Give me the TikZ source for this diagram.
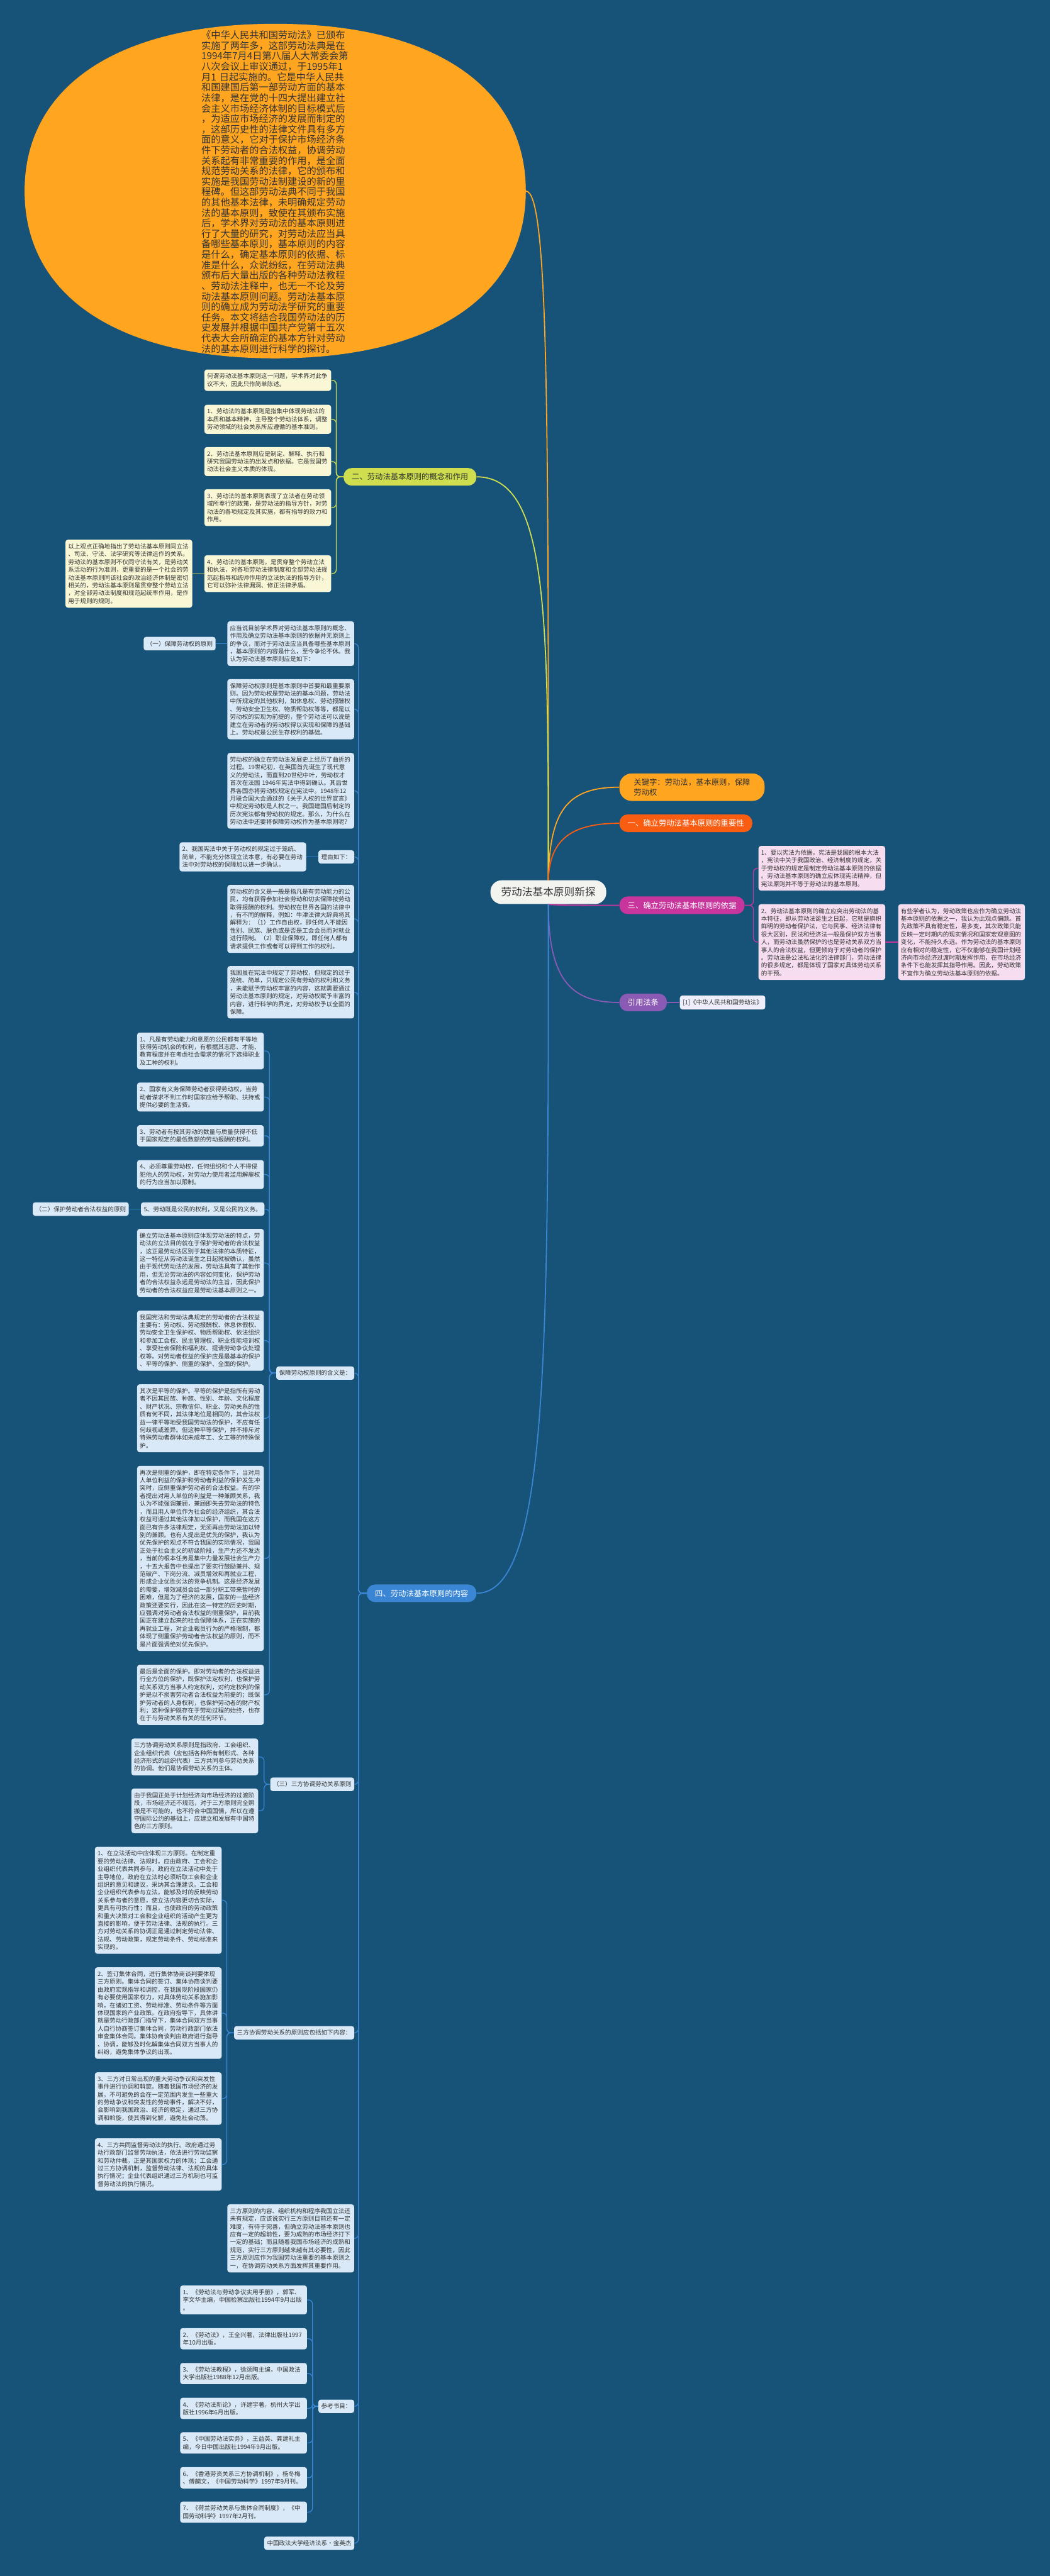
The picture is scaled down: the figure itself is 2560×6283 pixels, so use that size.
\documentclass[tikz,border=0pt]{standalone}
\usepackage{fontspec}
\setmainfont{Noto Sans CJK SC}
\usetikzlibrary{positioning,shapes.geometric}
\definecolor{bgblue}{RGB}{23,83,121}
\definecolor{ellorange}{RGB}{255,165,31}
\definecolor{limegreen}{RGB}{206,222,78}
\definecolor{creambox}{RGB}{249,247,214}
\definecolor{midblue}{RGB}{58,134,212}
\definecolor{paleblue}{RGB}{217,233,247}
\definecolor{redorange}{RGB}{249,93,18}
\definecolor{basisred}{RGB}{200,53,156}
\definecolor{pinkbox}{RGB}{246,221,240}
\definecolor{lawpurple}{RGB}{139,90,181}
\definecolor{lawbox}{RGB}{238,238,250}
\definecolor{inktext}{RGB}{51,51,51}
\definecolor{ctrfill}{RGB}{243,243,240}
\newcommand\boxfont{\fontsize{8.35pt}{10.83pt}\selectfont}
\newcommand\branchfont{\fontsize{10.77pt}{13.9pt}\selectfont}
\newcommand\corefont{\fontsize{14.57pt}{17pt}\selectfont}
\newcommand\introfont{\fontsize{13.3pt}{14.5pt}\selectfont}

\begin{document}
\begin{tikzpicture}[x=0.2mm, y=-0.2mm,
  txt/.style={fill=#1, rounded corners=1.2mm, text=inktext, font=\boxfont, align=left, text width=59.2mm, inner xsep=1.3mm, inner ysep=5.4pt, anchor=north west},
  tag/.style={fill=#1, rounded corners=1.2mm, text=inktext, font=\boxfont, inner xsep=1.4mm, inner ysep=5.4pt, anchor=east},
  branch/.style={fill=#1, rounded corners=4mm, font=\branchfont, inner xsep=4mm, minimum height=8.6mm},
  link/.style={draw=#1, line width=0.4mm, rounded corners=2mm},
  main/.style={draw=#1, line width=0.55mm}
]
\fill[bgblue] (0,0) rectangle (2560,6283);
\useasboundingbox (0,0) rectangle (2560,6283);

\fill[ellorange] (60,466) .. controls (60,211) and (286,58) .. (671,58) .. controls (1056,58) and (1282,211) .. (1282,466) .. controls (1282,721) and (1056,874) .. (671,874) .. controls (286,874) and (60,721) .. (60,466) -- cycle;
\coordinate (introeast) at (1282,466);
\node[font=\introfont, text=inktext, align=left, text width=72mm] (introtext) at (671,468) {《中华人民共和国劳动法》已颁布\\实施了两年多，这部劳动法典是在\\1994年7月4日第八届人大常委会第\\八次会议上审议通过，于1995年1\\月1 日起实施的。它是中华人民共\\和国建国后第一部劳动方面的基本\\法律，是在党的十四大提出建立社\\会主义市场经济体制的目标模式后\\，为适应市场经济的发展而制定的\\，这部历史性的法律文件具有多方\\面的意义，它对于保护市场经济条\\件下劳动者的合法权益，协调劳动\\关系起有非常重要的作用，是全面\\规范劳动关系的法律，它的颁布和\\实施是我国劳动法制建设的新的里\\程碑。但这部劳动法典不同于我国\\的其他基本法律，未明确规定劳动\\法的基本原则，致使在其颁布实施\\后，学术界对劳动法的基本原则进\\行了大量的研究，对劳动法应当具\\备哪些基本原则，基本原则的内容\\是什么，确定基本原则的依据、标\\准是什么，众说纷纭，在劳动法典\\颁布后大量出版的各种劳动法教程\\、劳动法注释中，也无一不论及劳\\动法基本原则问题。劳动法基本原\\则的确立成为劳动法学研究的重要\\任务。本文将结合我国劳动法的历\\史发展并根据中国共产党第十五次\\代表大会所确定的基本方针对劳动\\法的基本原则进行科学的探讨。};

\node[fill=ctrfill, rounded corners=5.5mm, font=\corefont, text=inktext, minimum height=11.6mm, inner xsep=5.2mm] (core) at (1337,2176) {劳动法基本原则新探};

\node[branch=limegreen, text=inktext, anchor=east] (concept) at (1162,1163) {二、劳动法基本原则的概念和作用};
\node[branch=midblue, text=white, anchor=east] (content) at (1162,3886) {四、劳动法基本原则的内容};
\node[branch=ellorange, text=inktext, anchor=west, align=left, rounded corners=6mm, inner xsep=7mm, inner ysep=2.5mm] (keyword) at (1510,1920) {关键字：劳动法，基本原则，保障\\劳动权};
\node[branch=redorange, text=white, anchor=west] (importance) at (1510,2008) {一、确立劳动法基本原则的重要性};
\node[branch=basisred, text=white, anchor=west] (basis) at (1510,2208) {三、确立劳动法基本原则的依据};
\node[branch=lawpurple, text=white, anchor=west] (statute) at (1510,2445) {引用法条};
\node[tag=lawbox, right=6.2mm of statute] (lawref) {[1]《中华人民共和国劳动法》};

\draw[main=ellorange] (core.north) .. controls (1337,1000) and (1337,466) .. (introeast);
\draw[main=limegreen] (core.north) .. controls (1337,1500) and (1337,1163) .. (concept.east);
\draw[main=ellorange] (core.north) .. controls (1340,1980) and (1380,1920) .. (keyword.west);
\draw[main=redorange] (core.north) .. controls (1340,2050) and (1390,2008) .. (importance.west);
\draw[main=basisred] (core.south) .. controls (1337,2208) and (1430,2208) .. (basis.west);
\draw[main=lawpurple] (core.south) .. controls (1337,2400) and (1400,2445) .. (statute.west);
\draw[main=midblue] (core.south) .. controls (1337,3300) and (1337,3886) .. (content.east);
\draw[link=lawpurple] (statute.east) -- (lawref.west);

\node[txt=pinkbox] (p1) at (1849,2063) {1、要以宪法为依据。宪法是我国的根本大法\\，宪法中关于我国政治、经济制度的规定，关\\于劳动权的规定是制定劳动法基本原则的依据\\。劳动法基本原则的确立应体现宪法精神，但\\宪法原则并不等于劳动法的基本原则。};
\node[txt=pinkbox] (p2) at (1849,2205) {2、劳动法基本原则的确立应突出劳动法的基\\本特征，即从劳动法诞生之日起，它就是旗帜\\鲜明的劳动者保护法，它与民事、经济法律有\\很大区别，民法和经济法一般是保护双方当事\\人，而劳动法虽然保护的也是劳动关系双方当\\事人的合法权益，但更倾向于对劳动者的保护\\。劳动法是公法私法化的法律部门，劳动法律\\的很多规定，都是体现了国家对具体劳动关系\\的干预。};
\node[txt=pinkbox, right=6.2mm of p2] (p3) {有些学者认为，劳动政策也应作为确立劳动法\\基本原则的依据之一，我认为此观点偏颇。首\\先政策不具有稳定性，易多变，其次政策只能\\反映一定时期内的现实情况和国家宏观意图的\\变化，不能持久永远。作为劳动法的基本原则\\应有相对的稳定性，它不仅能够在我国计划经\\济向市场经济过渡时期发挥作用，在市场经济\\条件下也能发挥其指导作用。因此，劳动政策\\不宜作为确立劳动法基本原则的依据。};
\coordinate (spbasis) at (1837,0);
\foreach \c in {p1,p2}
  \draw[link=basisred] (basis.east) -- (basis.east -| spbasis) -- (\c.west -| spbasis) -- (\c.west);
\draw[link=basisred] (p2.east) -- (p3.west);

\node[txt=creambox] (a1) at (498,901) {何谓劳动法基本原则这一问题，学术界对此争\\议不大，因此只作简单陈述。};
\node[txt=creambox] (a2) at (498,987) {1、劳动法的基本原则是指集中体现劳动法的\\本质和基本精神，主导整个劳动法体系，调整\\劳动领域的社会关系所应遵循的基本准则。};
\node[txt=creambox] (a3) at (498,1090) {2、劳动法基本原则应是制定、解释、执行和\\研究我国劳动法的出发点和依据。它是我国劳\\动法社会主义本质的体现。};
\node[txt=creambox] (a4) at (498,1193) {3、劳动法的基本原则表现了立法者在劳动领\\域所奉行的政策，是劳动法的指导方针，对劳\\动法的各项规定及其实施，都有指导的效力和\\作用。};
\node[txt=creambox] (a5) at (498,1354) {4、劳动法的基本原则，是贯穿整个劳动立法\\和执法，对各项劳动法律制度和全部劳动法规\\范起指导和统帅作用的立法执法的指导方针，\\它可以弥补法律漏洞、修正法律矛盾。};
\node[txt=creambox, left=5.8mm of a5] (recap) {以上观点正确地指出了劳动法基本原则同立法\\、司法、守法、法学研究等法律运作的关系。\\劳动法的基本原则不仅同守法有关，是劳动关\\系活动的行为准则，更重要的是一个社会的劳\\动法基本原则同该社会的政治经济体制是密切\\相关的，劳动法基本原则是贯穿整个劳动立法\\，对全部劳动法制度和规范起统率作用，是作\\用于规则的规则。};
\coordinate (spconcept) at (820,0);
\foreach \c in {a1,a2,a3,a4,a5}
  \draw[link=limegreen] (\c.east) -- (\c.east -| spconcept) -- (concept.west -| spconcept) -- (concept.west);
\draw[link=limegreen] (recap.east) -- (a5.west);

\node[txt=paleblue] (b1) at (554,1515) {应当说目前学术界对劳动法基本原则的概念、\\作用及确立劳动法基本原则的依据并无原则上\\的争议，而对于劳动法应当具备哪些基本原则\\，基本原则的内容是什么，至今争论不休。我\\认为劳动法基本原则应是如下：};
\node[tag=paleblue, left=5.6mm of b1] (right1) {（一）保障劳动权的原则};
\node[txt=paleblue] (b2) at (554,1656) {保障劳动权原则是基本原则中首要和最重要原\\则。因为劳动权是劳动法的基本问题，劳动法\\中所规定的其他权利，如休息权、劳动报酬权\\、劳动安全卫生权、物质帮助权等等，都是以\\劳动权的实现为前提的，整个劳动法可以说是\\建立在劳动者的劳动权得以实现和保障的基础\\上。劳动权是公民生存权利的基础。};
\node[txt=paleblue] (b3) at (554,1836) {劳动权的确立在劳动法发展史上经历了曲折的\\过程。19世纪初，在英国首先诞生了现代意\\义的劳动法，而直到20世纪中叶，劳动权才\\首次在法国 1946年宪法中得到确认。其后世\\界各国亦将劳动权规定在宪法中。1948年12\\月联合国大会通过的《关于人权的世界宣言》\\中规定劳动权是人权之一。我国建国后制定的\\历次宪法都有劳动权的规定。那么，为什么在\\劳动法中还要将保障劳动权作为基本原则呢？};
\node[tag=paleblue] (reason) at (864,2090) {理由如下：};
\node[txt=paleblue, left=5.8mm of reason] (c1) {2、我国宪法中关于劳动权的规定过于笼统、\\简单，不能充分体现立法本意，有必要在劳动\\法中对劳动权的保障加以进一步确认。};
\node[txt=paleblue] (b4) at (554,2158) {劳动权的含义是一般是指凡是有劳动能力的公\\民，均有获得参加社会劳动和切实保障按劳动\\取得报酬的权利。劳动权在世界各国的法律中\\，有不同的解释，例如：牛津法律大辞典将其\\解释为：（1）工作自由权，即任何人不能因\\性别、民族、肤色或是否是工会会员而对就业\\进行限制。（2）职业保障权，即任何人都有\\请求提供工作或者可以得到工作的权利。};
\node[txt=paleblue] (b5) at (554,2356) {我国虽在宪法中规定了劳动权，但规定的过于\\笼统、简单，只规定公民有劳动的权利和义务\\，未能赋予劳动权丰富的内容，这就需要通过\\劳动法基本原则的规定，对劳动权赋予丰富的\\内容，进行科学的界定，对劳动权予以全面的\\保障。};
\draw[link=midblue] (right1.east) -- (b1.west);
\draw[link=midblue] (c1.east) -- (reason.west);

\node[txt=paleblue] (d1) at (334,2518) {1、凡是有劳动能力和意愿的公民都有平等地\\获得劳动机会的权利，有根据其志愿、才能、\\教育程度并在考虑社会需求的情况下选择职业\\及工种的权利。};
\node[txt=paleblue] (d2) at (334,2640) {2、国家有义务保障劳动者获得劳动权，当劳\\动者谋求不到工作时国家应给予帮助、扶持或\\提供必要的生活费。};
\node[txt=paleblue] (d3) at (334,2744) {3、劳动者有按其劳动的数量与质量获得不低\\于国家规定的最低数额的劳动报酬的权利。};
\node[txt=paleblue] (d4) at (334,2829) {4、必须尊重劳动权，任何组织和个人不得侵\\犯他人的劳动权，对劳动力使用者滥用解雇权\\的行为应当加以限制。};
\node[tag=paleblue] (d5) at (645,2949) {5、劳动既是公民的权利，又是公民的义务。};
\node[tag=paleblue, left=5.8mm of d5] (right2) {（二）保护劳动者合法权益的原则};
\node[txt=paleblue] (d6) at (334,2997) {确立劳动法基本原则应体现劳动法的特点，劳\\动法的立法目的就在于保护劳动者的合法权益\\，这正是劳动法区别于其他法律的本质特征，\\这一特征从劳动法诞生之日起就被确认，虽然\\由于现代劳动法的发展，劳动法具有了其他作\\用，但无论劳动法的内容如何变化，保护劳动\\者的合法权益永远是劳动法的主旨，因此保护\\劳动者的合法权益应是劳动法基本原则之一。};
\node[txt=paleblue] (d7) at (334,3196) {我国宪法和劳动法典规定的劳动者的合法权益\\主要有：劳动权、劳动报酬权、休息休假权、\\劳动安全卫生保护权、物质帮助权、依法组织\\和参加工会权、民主管理权、职业技能培训权\\、享受社会保险和福利权、提请劳动争议处理\\权等。对劳动者权益的保护应是最基本的保护\\、平等的保护、侧重的保护、全面的保护。};
\node[txt=paleblue] (d8) at (334,3376) {其次是平等的保护。平等的保护是指所有劳动\\者不因其民族、种族、性别、年龄、文化程度\\、财产状况、宗教信仰、职业、劳动关系的性\\质有何不同，其法律地位是相同的，其合法权\\益一律平等地受我国劳动法的保护，不应有任\\何歧视或差异。但这种平等保护，并不排斥对\\特殊劳动者群体如未成年工、女工等的特殊保\\护。};
\node[txt=paleblue] (d9) at (334,3575) {再次是侧重的保护，即在特定条件下，当对用\\人单位利益的保护和劳动者利益的保护发生冲\\突时，应侧重保护劳动者的合法权益。有的学\\者提出对用人单位的利益是一种兼顾关系，我\\认为不能强调兼顾，兼顾即失去劳动法的特色\\，而且用人单位作为社会的经济组织，其合法\\权益可通过其他法律加以保护，而我国在这方\\面已有许多法律规定，无须再由劳动法加以特\\别的兼顾。也有人提出是优先的保护，我认为\\优先保护的观点不符合我国的实际情况，我国\\正处于社会主义的初级阶段，生产力还不发达\\，当前的根本任务是集中力量发展社会生产力\\，十五大报告中也提出了要实行鼓励兼并、规\\范破产、下岗分流、减员增效和再就业工程，\\形成企业优胜劣汰的竞争机制。这是经济发展\\的需要，增效减员会给一部分职工带来暂时的\\困难，但是为了经济的发展，国家的一些经济\\政策还要实行，因此在这一特定的历史时期，\\应强调对劳动者合法权益的侧重保护，目前我\\国正在建立起来的社会保障体系，正在实施的\\再就业工程，对企业裁员行为的严格限制，都\\体现了侧重保护劳动者合法权益的原则，而不\\是片面强调绝对优先保护。};
\node[txt=paleblue] (d10) at (334,4060) {最后是全面的保护。即对劳动者的合法权益进\\行全方位的保护，既保护法定权利，也保护劳\\动关系双方当事人约定权利，对约定权利的保\\护是以不损害劳动者合法权益为前提的；既保\\护劳动者的人身权利，也保护劳动者的财产权\\利；这种保护既存在于劳动过程的始终，也存\\在于与劳动关系有关的任何环节。};
\node[tag=paleblue] (meaning) at (864,3349) {保障劳动权原则的含义是：};
\coordinate (spmeaning) at (657,0);
\foreach \c in {d1,d2,d3,d4,d5,d6,d7,d8,d9,d10}
  \draw[link=midblue] (\c.east) -- (\c.east -| spmeaning) -- (meaning.west -| spmeaning) -- (meaning.west);
\draw[link=midblue] (right2.east) -- (d5.west);

\node[txt=paleblue] (e1) at (320,4240) {三方协调劳动关系原则是指政府、工会组织、\\企业组织代表（应包括各种所有制形式、各种\\经济形式的组织代表）三方共同参与劳动关系\\的协调。他们是协调劳动关系的主体。};
\node[txt=paleblue] (e2) at (320,4362) {由于我国正处于计划经济向市场经济的过渡阶\\段，市场经济还不规范，对于三方原则完全照\\搬是不可能的，也不符合中国国情，所以在遵\\守国际公约的基础上，应建立和发展有中国特\\色的三方原则。};
\node[tag=paleblue] (tri) at (864,4352) {（三）三方协调劳动关系原则};
\coordinate (sptri) at (644,0);
\foreach \c in {e1,e2}
  \draw[link=midblue] (\c.east) -- (\c.east -| sptri) -- (tri.west -| sptri) -- (tri.west);

\node[txt=paleblue] (f1) at (231,4504) {1、在立法活动中应体现三方原则。在制定重\\要的劳动法律、法规时，应由政府、工会和企\\业组织代表共同参与，政府在立法活动中处于\\主导地位，政府在立法时必须听取工会和企业\\组织的意见和建议，采纳其合理建议。工会和\\企业组织代表参与立法，能够及时的反映劳动\\关系参与者的意愿，使立法内容更切合实际，\\更具有可执行性；而且，也使政府的劳动政策\\和重大决策对工会和企业组织的活动产生更为\\直接的影响，便于劳动法律、法规的执行。三\\方对劳动关系的协调正是通过制定劳动法律、\\法规、劳动政策，规定劳动条件、劳动标准来\\实现的。};
\node[txt=paleblue] (f2) at (231,4798) {2、签订集体合同，进行集体协商谈判要体现\\三方原则。集体合同的签订、集体协商谈判要\\由政府宏观指导和调控，在我国现阶段国家仍\\有必要使用国家权力，对具体劳动关系施加影\\响，在诸如工资、劳动标准、劳动条件等方面\\体现国家的产业政策。在政府指导下，具体讲\\就是劳动行政部门指导下，集体合同双方当事\\人自行协商签订集体合同，劳动行政部门依法\\审查集体合同。集体协商谈判由政府进行指导\\、协调，能够及时化解集体合同双方当事人的\\纠纷，避免集体争议的出现。};
\node[txt=paleblue] (f3) at (231,5054) {3、三方对日常出现的重大劳动争议和突发性\\事件进行协调和斡旋。随着我国市场经济的发\\展，不可避免的会在一定范围内发生一些重大\\的劳动争议和突发性的劳动事件，解决不好，\\会影响到我国政治、经济的稳定，通过三方协\\调和斡旋，使其得到化解，避免社会动荡。};
\node[txt=paleblue] (f4) at (231,5215) {4、三方共同监督劳动法的执行。政府通过劳\\动行政部门监督劳动执法，依法进行劳动监察\\和劳动仲裁，正是其国家权力的体现；工会通\\过三方协调机制，监督劳动法律、法规的具体\\执行情况；企业代表组织通过三方机制也可监\\督劳动法的执行情况。};
\node[tag=paleblue] (triitems) at (864,4958) {三方协调劳动关系的原则应包括如下内容：};
\coordinate (sptriitems) at (553,0);
\foreach \c in {f1,f2,f3,f4}
  \draw[link=midblue] (\c.east) -- (\c.east -| sptriitems) -- (triitems.west -| sptriitems) -- (triitems.west);

\node[txt=paleblue] (b6) at (554,5376) {三方原则的内容、组织机构和程序我国立法还\\未有规定，应该说实行三方原则目前还有一定\\难度，有待于完善，但确立劳动法基本原则也\\应有一定的超前性，要为成熟的市场经济打下\\一定的基础；而且随着我国市场经济的成熟和\\规范，实行三方原则越来越有其必要性，因此\\三方原则应作为我国劳动法重要的基本原则之\\一，在协调劳动关系方面发挥其重要作用。};

\node[txt=paleblue] (g1) at (439,5574) {1、《劳动法与劳动争议实用手册》，郭军、\\李文华主编，中国检察出版社1994年9月出版\\。};
\node[txt=paleblue] (g2) at (439,5678) {2、《劳动法》，王全兴著，法律出版社1997\\年10月出版。};
\node[txt=paleblue] (g3) at (439,5763) {3、《劳动法教程》，徐颂陶主编，中国政法\\大学出版社1988年12月出版。};
\node[txt=paleblue] (g4) at (439,5848) {4、《劳动法新论》，许建宇著，杭州大学出\\版社1996年6月出版。};
\node[txt=paleblue] (g5) at (439,5932) {5、《中国劳动法实务》，王益英、龚建礼主\\编，今日中国出版社1994年9月出版。};
\node[txt=paleblue] (g6) at (439,6017) {6、《香港劳资关系三方协调机制》，杨冬梅\\、傅麟文，《中国劳动科学》1997年9月刊。};
\node[txt=paleblue] (g7) at (439,6101) {7、《荷兰劳动关系与集体合同制度》，《中\\国劳动科学》1997年2月刊。};
\node[tag=paleblue] (refs) at (864,5869) {参考书目：};
\coordinate (sprefs) at (762,0);
\foreach \c in {g1,g2,g3,g4,g5,g6,g7}
  \draw[link=midblue] (\c.east) -- (\c.east -| sprefs) -- (refs.west -| sprefs) -- (refs.west);
\node[tag=paleblue] (author) at (864,6203) {中国政法大学经济法系·金英杰};

\coordinate (spcontent) at (874,0);
\foreach \c in {b1,b2,b3,reason,b4,b5,meaning,tri,triitems,b6,refs,author}
  \draw[link=midblue] (\c.east) -- (\c.east -| spcontent) -- (content.west -| spcontent) -- (content.west);
\end{tikzpicture}
\end{document}
